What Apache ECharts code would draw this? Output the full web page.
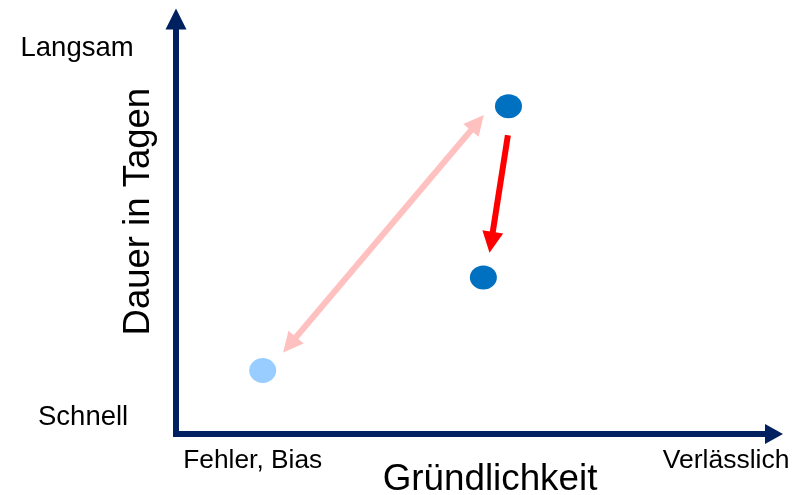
<!DOCTYPE html>
<html>
<head>
<meta charset="utf-8">
<script src="https://cdn.jsdelivr.net/npm/echarts@6/dist/echarts.min.js"></script>
<style>
  html, body { margin: 0; padding: 0; background: #ffffff; }
  #chart { width: 798px; height: 495px; }
</style>
</head>
<body>
<div id="chart"></div>
<script>
// Abstract scale 0..100 on both axes (Gründlichkeit vs. Dauer)
const yEndLabels = ['Schnell', 'Langsam'];
const xEndLabels = ['Fehler, Bias', 'Verlässlich'];
const xAxisTitle = 'Gründlichkeit';
const yAxisTitle = 'Dauer in Tagen';

// Points: [Gründlichkeit, Dauer]
const fastPoint = [[14.5, 15.3]];
const slowPoints = [[55.6, 79.0], [51.4, 37.7]];

// Arrows: start and end coordinates
const tradeOffArrow = [[19.0, 21.5], [50.4, 75.0]];
const improveArrow = [[55.5, 72.0], [52.7, 46.2]];

const navy = '#002060';
const font = '"Liberation Sans", Arial, sans-serif';

const chart = echarts.init(document.getElementById('chart'), null, { renderer: 'canvas' });

const hiddenAxisParts = {
  axisTick: { show: false },
  axisLabel: { show: false },
  splitLine: { show: false }
};

chart.setOption({
  animation: false,
  backgroundColor: '#ffffff',
  grid: { left: 176, right: 24, top: 19, bottom: 61 },
  xAxis: Object.assign({
    type: 'value', min: 0, max: 100,
    axisLine: {
      show: true,
      symbol: ['none', 'triangle'],
      symbolSize: [20, 18],
      lineStyle: { color: navy, width: 6, cap: 'square' }
    }
  }, hiddenAxisParts),
  yAxis: Object.assign({
    type: 'value', min: 0, max: 100,
    axisLine: {
      show: true,
      symbol: ['none', 'triangle'],
      symbolSize: [21, 21],
      lineStyle: { color: navy, width: 6, cap: 'square' }
    }
  }, hiddenAxisParts),
  series: [
    {
      type: 'lines',
      coordinateSystem: 'cartesian2d',
      symbol: ['triangle', 'triangle'],
      symbolSize: [20, 20],
      lineStyle: { color: '#FFC0C0', width: 6, opacity: 1, curveness: 0 },
      data: [{ coords: tradeOffArrow }],
      z: 3
    },
    {
      type: 'lines',
      coordinateSystem: 'cartesian2d',
      symbol: ['none', 'triangle'],
      symbolSize: [20, 21],
      lineStyle: { color: '#FF0000', width: 6, opacity: 1, curveness: 0 },
      data: [{ coords: improveArrow }],
      z: 3
    },
    {
      type: 'scatter',
      symbol: 'circle',
      symbolSize: [27, 25],
      itemStyle: { color: '#99CCFF', opacity: 1 },
      data: fastPoint,
      z: 4
    },
    {
      type: 'scatter',
      symbol: 'circle',
      symbolSize: [27, 24],
      itemStyle: { color: '#0070C0', opacity: 1 },
      data: slowPoints,
      z: 4
    }
  ],
  graphic: [
    { type: 'text', x: 20.5, y: 48.5, style: { text: yEndLabels[1], font: '27.5px ' + font, fill: '#000', textAlign: 'left', textVerticalAlign: 'middle' } },
    { type: 'text', x: 38, y: 417.4, style: { text: yEndLabels[0], font: '27.5px ' + font, fill: '#000', textAlign: 'left', textVerticalAlign: 'middle' } },
    { type: 'text', x: 183.3, y: 461, style: { text: xEndLabels[0], font: '26.3px ' + font, fill: '#000', textAlign: 'left', textVerticalAlign: 'middle' } },
    { type: 'text', x: 789.5, y: 460.5, style: { text: xEndLabels[1], font: '26.5px ' + font, fill: '#000', textAlign: 'right', textVerticalAlign: 'middle' } },
    { type: 'text', x: 490, y: 479.5, style: { text: xAxisTitle, font: '36.8px ' + font, fill: '#000', textAlign: 'center', textVerticalAlign: 'middle' } },
    { type: 'text', x: 139, y: 211.7, rotation: Math.PI / 2, style: { text: yAxisTitle, font: '36.5px ' + font, fill: '#000', textAlign: 'center', textVerticalAlign: 'middle' } }
  ]
});
</script>
</body>
</html>
